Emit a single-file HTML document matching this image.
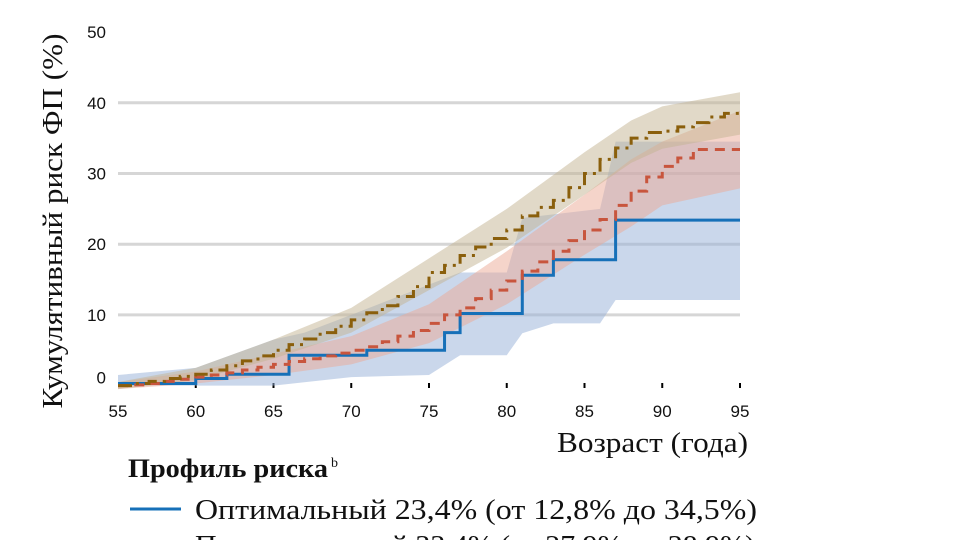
<!DOCTYPE html>
<html><head><meta charset="utf-8"><style>
body{margin:0;width:961px;height:540px;overflow:hidden;background:#fff}
svg{display:block}
.tk{font-family:"Liberation Sans",sans-serif;font-size:17px;fill:#111}
.sf{font-family:"Liberation Serif",serif;fill:#111}
</style></head><body>
<svg id="c" width="961" height="540"></svg>
<script>
const xTicks=[55,60,65,70,75,80,85,90,95];
const yTicks=[0,10,20,30,40,50];
const bandAges=[55,60,65,70,75,80,85,88,90,95];
const goldHi=[0.5,2.5,6.5,11,18,25,33,37.5,39.5,41.5];
const goldLo=[-0.5,0.8,3.8,7.5,13.5,19.5,27,31.5,33.5,35.5];
const redHi=[0.5,2,4.5,7,11.5,19,27,32,34.5,38.9];
const redLo=[-0.5,0.3,1.5,3,6,11.5,18.5,22.5,25.5,27.9];
const blueHiAges=[55,60,65,67,70,77,80,81,86,87,95];
const blueHi=[1.5,2.5,6.5,7.5,10,16,16,23.7,25,34.5,34.5];
const blueLoAges=[55,65,70,75,77,80,81,83,86,87,95];
const blueLo=[0,0,1.2,1.5,4.3,4.3,7.4,8.8,8.8,12.1,12.1];
const blueAges=[55,60,62,66,71,76,77,81,83,87,95];
const blueVals=[0.3,1.0,1.6,4.3,5.0,7.5,10.2,15.6,17.8,23.4,23.4];
const yearAges=[55,56,57,58,59,60,61,62,63,64,65,66,67,68,69,70,71,72,73,74,75,76,77,78,79,80,81,82,83,84,85,86,87,88,89,90,91,92,93,94,95];
const goldVals=[0,0.3,0.6,1,1.3,1.6,2.2,2.8,3.5,4.2,5,5.8,6.6,7.5,8.4,9.3,10.3,11.3,12.6,14,16,17,18.4,19.6,20.8,22,24,25.2,26.2,28,30,32,33.6,35,35.8,36,36.6,37.2,38,38.5,38.5];
const redVals=[0,0.1,0.3,0.6,0.9,1.2,1.5,1.8,2.2,2.6,3,3.4,3.8,4.2,4.6,5,5.5,6.2,7,7.8,8.8,10,11,12.3,13.5,14.8,16.2,17.5,19,20.5,22,23.5,25.5,27.5,29.5,31,32.2,33.4,33.4,33.4,33.4];

const NS="http://www.w3.org/2000/svg",svg=document.getElementById('c');
const X=a=>118+(a-55)*15.55, Y=v=>385.6-v*7.07;
function el(t,at,txt){const e=document.createElementNS(NS,t);for(const k in at)e.setAttribute(k,at[k]);if(txt!=null)e.textContent=txt;svg.appendChild(e);return e;}
yTicks.forEach(v=>{if(v>0&&v<50){const g=el('line',{x1:118,x2:740,y1:Y(v),y2:Y(v),stroke:'#d6d6d6','stroke-width':3});

}
const t=el('text',{x:106,y:Y(v)+(v==0?-2:6),'text-anchor':'end',class:'tk'},v);

});
xTicks.forEach(a=>{const t=el('text',{x:X(a),y:417,'text-anchor':'middle',class:'tk'},a);


if(a>55){const k=el('line',{x1:X(a),x2:X(a),y1:383,y2:388,stroke:'#000','stroke-width':2});

}});
function band(ha,h,la,l,fill,name){let p=ha.map((a,i)=>X(a)+','+Y(h[i]));for(let i=la.length-1;i>=0;i--)p.push(X(la[i])+','+Y(l[i]));
const e=el('polygon',{points:p.join(' '),fill:fill});

}
band(blueHiAges,blueHi,blueLoAges,blueLo,'rgba(150,175,215,0.5)','band-optimal');
band(bandAges,redHi,bandAges,redLo,'rgba(235,170,150,0.5)','band-intermediate');
band(bandAges,goldHi,bandAges,goldLo,'rgba(195,180,145,0.5)','band-high');
function step(ages,vals,col,dash,name){let d='M'+X(ages[0])+','+Y(vals[0]);for(let i=1;i<ages.length;i++){d+=' H'+X(ages[i])+' V'+Y(vals[i]);}
const e=el('path',{d:d,fill:'none',stroke:col,'stroke-width':3,'stroke-dasharray':dash});

}
step(blueAges,blueVals,'#1670b8','none','line-optimal');
step(yearAges,redVals,'#c8553d','10 7','line-intermediate');
step(yearAges,goldVals,'#8a5f0c','14 6 3 6','line-high');
let t=el('text',{x:0,y:0,class:'sf','font-size':29,'text-anchor':'middle',textLength:375,lengthAdjust:'spacingAndGlyphs',transform:'translate(62,221) rotate(-90)'},'Кумулятивный риск ФП (%)');


t=el('text',{x:557,y:452,class:'sf','font-size':29,textLength:191,lengthAdjust:'spacingAndGlyphs'},'Возраст (года)');


t=el('text',{x:128,y:477,class:'sf','font-size':26,'font-weight':'bold',textLength:200,lengthAdjust:'spacingAndGlyphs'},'Профиль риска');


el('text',{x:331,y:467,class:'sf','font-size':14},'b');
let l=el('line',{x1:130,x2:181,y1:509,y2:509,stroke:'#1670b8','stroke-width':3});


t=el('text',{x:195,y:519,class:'sf','font-size':29,textLength:562,lengthAdjust:'spacingAndGlyphs'},'Оптимальный  23,4% (от 12,8% до 34,5%)');


l=el('line',{x1:130,x2:181,y1:545,y2:545,stroke:'#c8553d','stroke-width':3,'stroke-dasharray':'10 7'});


t=el('text',{x:195,y:555,class:'sf','font-size':29,textLength:560,lengthAdjust:'spacingAndGlyphs'},'Промежуточный  33,4% (от 27,9% до 38,9%)');


</script>
</body></html>
